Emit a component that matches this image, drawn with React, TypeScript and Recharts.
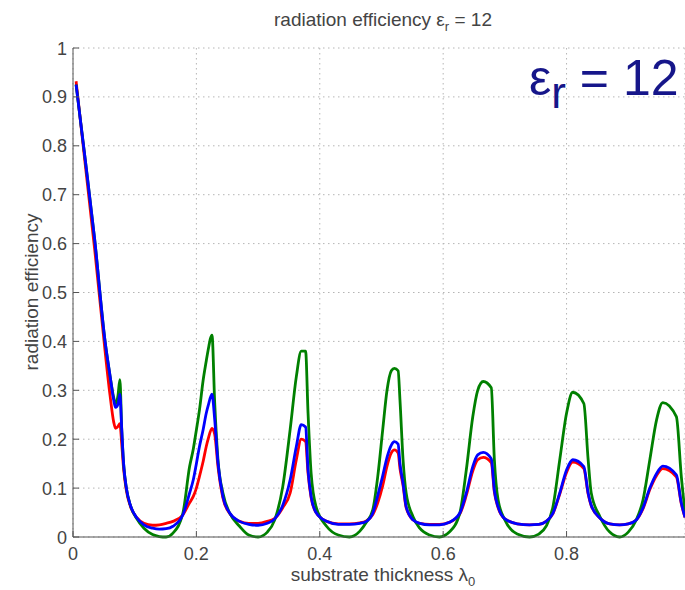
import React from "react";
import { LineChart, Line, XAxis, YAxis, CartesianGrid } from "recharts";

// substrate thickness (in free-space wavelengths)
const thickness = [
  0.005, 0.02, 0.035, 0.052, 0.06, 0.066, 0.069, 0.073, 0.076, 0.079,
  0.082, 0.0865, 0.093, 0.103, 0.115, 0.129, 0.14, 0.151, 0.162, 0.178,
  0.189, 0.195, 0.2, 0.205, 0.211, 0.216, 0.219, 0.2253, 0.2297, 0.235,
  0.243, 0.254, 0.27, 0.285, 0.3, 0.315, 0.327, 0.34, 0.352, 0.362,
  0.37, 0.377, 0.381, 0.386, 0.394, 0.411, 0.43, 0.448, 0.465, 0.4755,
  0.486, 0.494, 0.502, 0.509, 0.516, 0.521, 0.527, 0.53, 0.535, 0.54,
  0.551, 0.562, 0.578, 0.594, 0.61, 0.627, 0.6375, 0.648, 0.656, 0.665,
  0.678, 0.683, 0.689, 0.7, 0.72, 0.74, 0.755, 0.767, 0.778, 0.789,
  0.8, 0.81, 0.828, 0.835, 0.84, 0.854, 0.87, 0.886, 0.9, 0.913,
  0.924, 0.935, 0.946, 0.956, 0.978, 0.986, 0.992,
];

const redEff = [
  0.932, 0.76, 0.59, 0.38, 0.29, 0.235, 0.222, 0.226, 0.232, 0.19,
  0.14, 0.095, 0.063, 0.04, 0.028, 0.024, 0.025, 0.028, 0.032, 0.045,
  0.07, 0.083, 0.1, 0.124, 0.155, 0.185, 0.2, 0.222, 0.21, 0.144,
  0.08, 0.048, 0.032, 0.028, 0.028, 0.032, 0.038, 0.06, 0.09, 0.158,
  0.2, 0.195, 0.13, 0.08, 0.05, 0.032, 0.027, 0.027, 0.029, 0.033,
  0.046, 0.07, 0.105, 0.145, 0.172, 0.178, 0.172, 0.14, 0.105, 0.06,
  0.035, 0.028, 0.026, 0.026, 0.03, 0.047, 0.085, 0.135, 0.158, 0.163,
  0.152, 0.092, 0.06, 0.037, 0.027, 0.025, 0.026, 0.032, 0.048, 0.088,
  0.132, 0.153, 0.14, 0.088, 0.064, 0.039, 0.027, 0.025, 0.027, 0.035,
  0.058, 0.097, 0.126, 0.14, 0.123, 0.068, 0.04,
];

const greenEff = [
  0.925, 0.77, 0.61, 0.4, 0.33, 0.285, 0.272, 0.29, 0.322, 0.22,
  0.15, 0.1, 0.065, 0.038, 0.018, 0.005, 0.001, 0, 0.008, 0.048,
  0.144, 0.18, 0.219, 0.26, 0.321, 0.36, 0.382, 0.413, 0.274, 0.158,
  0.09, 0.049, 0.022, 0.004, 0, 0.01, 0.035, 0.103, 0.22, 0.328,
  0.38, 0.38, 0.253, 0.13, 0.062, 0.022, 0.004, 0, 0.012, 0.03,
  0.056, 0.124, 0.219, 0.3, 0.34, 0.345, 0.34, 0.28, 0.158, 0.09,
  0.042, 0.018, 0.004, 0, 0.01, 0.049, 0.137, 0.246, 0.3, 0.318,
  0.305, 0.158, 0.076, 0.035, 0.006, 0, 0.006, 0.022, 0.062, 0.158,
  0.253, 0.296, 0.273, 0.158, 0.09, 0.042, 0.01, 0, 0.01, 0.035,
  0.076, 0.158, 0.24, 0.275, 0.246, 0.124, 0.05,
];

const blueEff = [
  0.925, 0.77, 0.61, 0.4, 0.33, 0.28, 0.265, 0.272, 0.292, 0.22,
  0.15, 0.1, 0.065, 0.04, 0.025, 0.018, 0.016, 0.017, 0.022, 0.045,
  0.09, 0.117, 0.15, 0.185, 0.22, 0.253, 0.268, 0.292, 0.24, 0.152,
  0.083, 0.049, 0.032, 0.026, 0.024, 0.028, 0.037, 0.065, 0.117, 0.185,
  0.23, 0.225, 0.137, 0.083, 0.05, 0.032, 0.026, 0.026, 0.028, 0.032,
  0.049, 0.085, 0.125, 0.163, 0.188, 0.195, 0.19, 0.15, 0.11, 0.062,
  0.035, 0.028, 0.025, 0.025, 0.03, 0.049, 0.09, 0.144, 0.168, 0.173,
  0.16, 0.095, 0.062, 0.037, 0.027, 0.025, 0.026, 0.032, 0.049, 0.09,
  0.137, 0.158, 0.144, 0.09, 0.065, 0.039, 0.027, 0.025, 0.027, 0.035,
  0.06, 0.1, 0.13, 0.145, 0.127, 0.07, 0.04,
];

const xTicks = [0, 0.2, 0.4, 0.6, 0.8];
const yTicks = [0, 0.1, 0.2, 0.3, 0.4, 0.5, 0.6, 0.7, 0.8, 0.9, 1];

const rows = thickness.map((x, i) => ({
  x,
  red: redEff[i],
  green: greenEff[i],
  blue: blueEff[i],
}));

const font = "'Liberation Sans', Arial, sans-serif";
const axisGray = "#555";
const textGray = "#444";

const BottomTick = (props: any) => {
  const { x, y, payload } = props;
  return (
    <g>
      <line x1={x} x2={x} y1={y} y2={y - 6} stroke={axisGray} />
      <text x={x} y={y + 23} textAnchor="middle" fill={textGray} fontSize={18} fontFamily={font}>
        {payload.value}
      </text>
    </g>
  );
};

const TopTick = (props: any) => {
  const { x, y } = props;
  return <line x1={x} x2={x} y1={y} y2={y + 6} stroke={axisGray} />;
};

const LeftTick = (props: any) => {
  const { x, y, payload } = props;
  return (
    <g>
      <line x1={x} x2={x + 6} y1={y} y2={y} stroke={axisGray} />
      <text x={x - 6} y={y + 6.5} textAnchor="end" fill={textGray} fontSize={18} fontFamily={font}>
        {payload.value}
      </text>
    </g>
  );
};

export default function App() {
  return (
    <div style={{ position: "absolute", left: 0, top: 0, width: 685, height: 590, fontFamily: font, background: "#fff" }}>
      <LineChart width={685} height={590} data={rows} margin={{ top: 48, right: 0, bottom: 0, left: 0 }}>
        <CartesianGrid stroke="#b5b5b5" strokeDasharray="1.5 3.5" />
        <XAxis
          dataKey="x"
          type="number"
          domain={[0, 0.992]}
          ticks={xTicks}
          allowDataOverflow
          height={53}
          tickSize={0}
          tickMargin={0}
          tickLine={false}
          stroke={axisGray}
          tick={<BottomTick />}
        />
        <XAxis
          xAxisId="top"
          orientation="top"
          dataKey="x"
          type="number"
          domain={[0, 0.992]}
          ticks={xTicks}
          allowDataOverflow
          height={0}
          tickSize={0}
          tickMargin={0}
          tickLine={false}
          stroke={axisGray}
          tick={<TopTick />}
        />
        <YAxis
          type="number"
          domain={[0, 1]}
          ticks={yTicks}
          width={73}
          tickSize={0}
          tickMargin={0}
          tickLine={false}
          stroke={axisGray}
          tick={<LeftTick />}
        />
        <Line type="monotone" dataKey="red" stroke="#ff0000" strokeWidth={2.8} dot={false} isAnimationActive={false} />
        <Line type="monotone" dataKey="green" stroke="#008000" strokeWidth={2.8} dot={false} isAnimationActive={false} />
        <Line type="monotone" dataKey="blue" stroke="#0000ff" strokeWidth={2.8} dot={false} isAnimationActive={false} />
      </LineChart>

      <div style={{ position: "absolute", left: 183, top: 10, width: 400, textAlign: "center", fontSize: 19, lineHeight: "19px", color: textGray, whiteSpace: "nowrap" }}>
        radiation efficiency ε<span style={{ fontSize: 13, position: "relative", top: 5 }}>r</span> = 12
      </div>

      <div style={{ position: "absolute", left: 529, top: 53, fontSize: 50, lineHeight: "50px", color: "#16168a", whiteSpace: "nowrap" }}>
        ε<span style={{ fontSize: 44, position: "relative", top: 13 }}>r</span> = 12
      </div>

      <div style={{ position: "absolute", left: 183, top: 565, width: 400, textAlign: "center", fontSize: 19, lineHeight: "19px", color: textGray, whiteSpace: "nowrap" }}>
        substrate thickness λ<span style={{ fontSize: 13, position: "relative", top: 5 }}>0</span>
      </div>

      <div style={{ position: "absolute", left: -68, top: 282, width: 200, textAlign: "center", fontSize: 19, lineHeight: "20px", color: textGray, whiteSpace: "nowrap", transform: "rotate(-90deg)" }}>
        radiation efficiency
      </div>
    </div>
  );
}
